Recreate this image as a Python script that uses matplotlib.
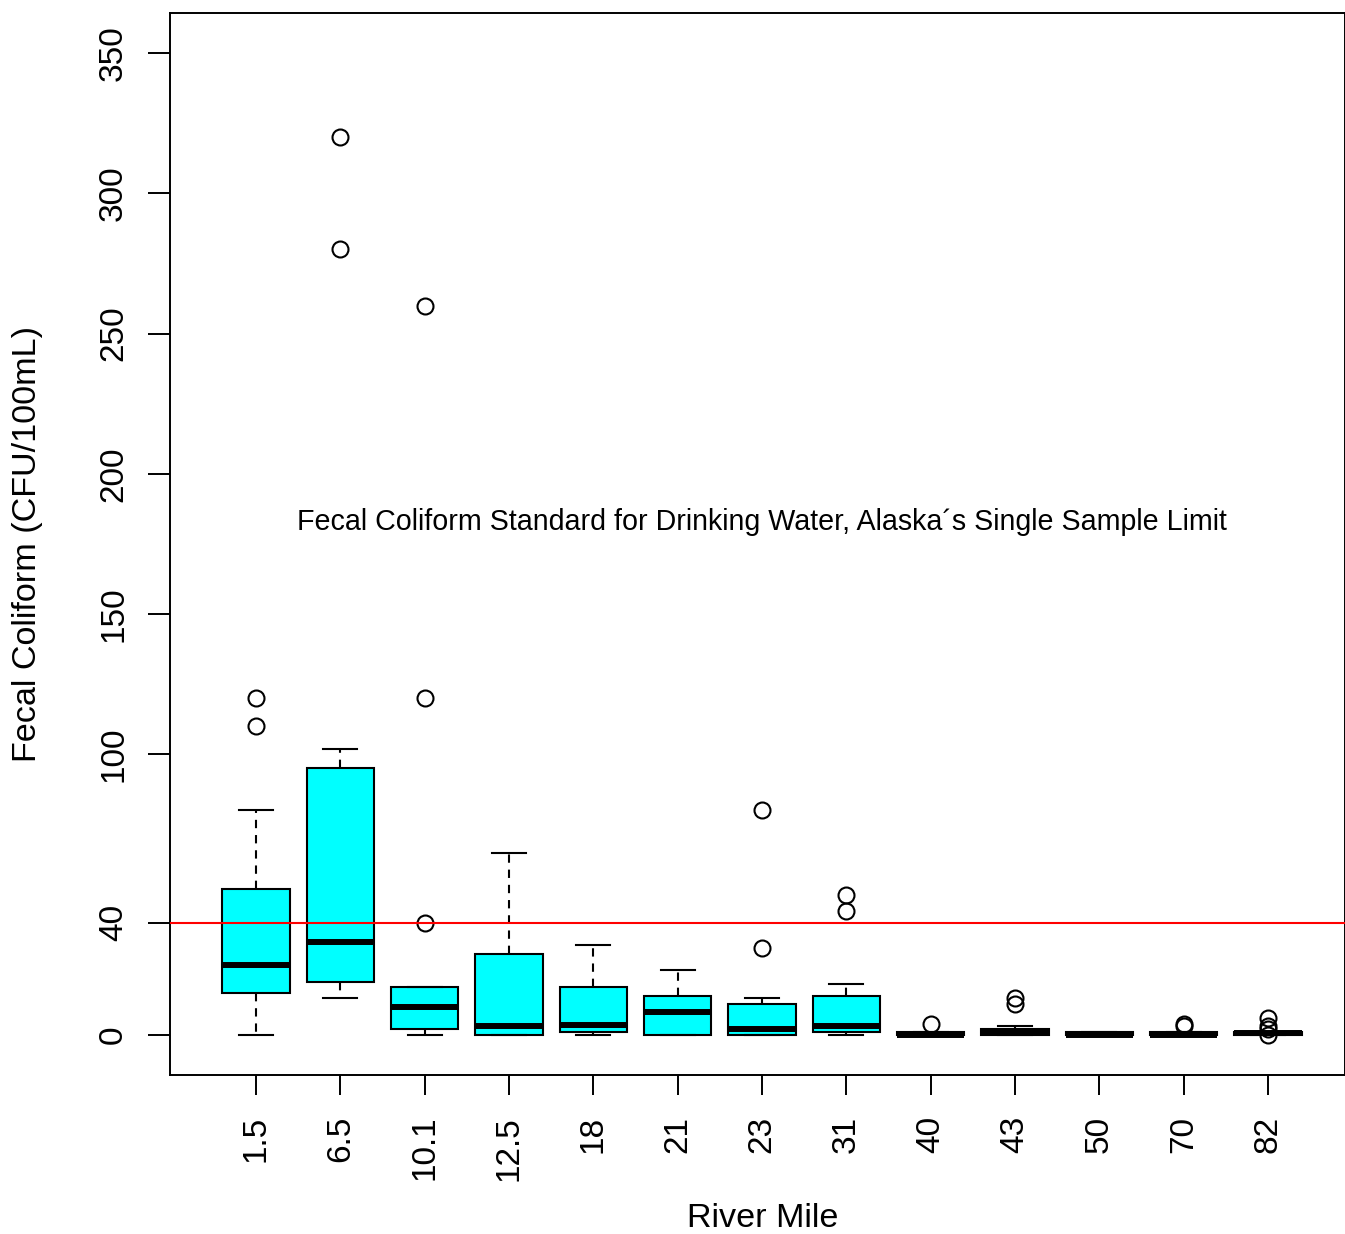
import matplotlib
matplotlib.use("Agg")
import matplotlib.pyplot as plt

plt.rcParams['font.family'] = ['Liberation Sans', 'DejaVu Sans']

# ---- data ----
river_miles = ["1.5", "6.5", "10.1", "12.5", "18", "21", "23", "31", "40", "43", "50", "70", "82"]
whisker_low = [0, 13, 0, 0, 0, 0, 0, 0, 0, 0, 0, 0, 0]
q1_values = [15, 19, 2, 0, 1, 0, 0, 1, 0, 0, 0, 0, 0]
medians = [25, 33, 10, 3, 3.5, 8, 2, 3, 0, 1, 0, 0, 0.5]
q3_values = [52, 95, 17, 29, 17, 14, 11, 14, 1, 2, 1, 1, 1]
whisker_high = [80, 102, 17, 65, 32, 23, 13, 18, 1, 3, 1, 1, 1]
outliers = [
    [120, 110],
    [320, 280],
    [260, 120, 40],
    [],
    [],
    [],
    [80, 31],
    [50, 44],
    [4],
    [13, 11],
    [],
    [4, 3],
    [6, 3, 2, 0],
]
standard_limit = 40
y_ticks = [0, 40, 100, 150, 200, 250, 300, 350]
annotation = "Fecal Coliform Standard for Drinking Water, Alaska\u00b4s Single Sample Limit"

stats = []
for i, lab in enumerate(river_miles):
    stats.append(dict(label=lab, whislo=whisker_low[i], q1=q1_values[i], med=medians[i],
                      q3=q3_values[i], whishi=whisker_high[i], fliers=outliers[i]))

W, H = 1345, 1234
fig = plt.figure(figsize=(W / 100, H / 100), dpi=100)
ax = fig.add_axes([170 / W, 1 - 1075 / H, 1175 / W, 1062 / H])

ax.bxp(stats, positions=range(1, len(stats) + 1), widths=0.8, capwidths=0.4,
       patch_artist=True, showfliers=True,
       boxprops=dict(facecolor='#00FFFF', edgecolor='black', linewidth=1.5),
       medianprops=dict(color='black', linewidth=4.3, solid_capstyle='butt'),
       whiskerprops=dict(color='black', linewidth=1.5, linestyle=(0, (4, 3.3))),
       capprops=dict(color='black', linewidth=1.5),
       flierprops=dict(marker='o', markerfacecolor='none', markeredgecolor='black',
                       markersize=11.5, markeredgewidth=1.5))

ax.axhline(standard_limit, color='red', linewidth=1.5, zorder=5)
ax.text(7, 183, annotation, ha='center', va='center', fontsize=20.6)

ax.set_xlim(-0.02, 13.913)
ax.set_ylim(-14.3, 364.3)

ax.set_yticks(y_ticks)
ax.set_yticklabels([str(v) for v in y_ticks], rotation=90, va='center', fontsize=24)
ax.set_xticks(range(1, len(river_miles) + 1))
ax.set_xticklabels(river_miles, rotation=90, ha='center', va='top', fontsize=24)

ax.tick_params(axis='y', length=15.5, width=1.4, pad=14)
ax.tick_params(axis='x', length=14.4, width=1.4, pad=15)

for s in ax.spines.values():
    s.set_linewidth(1.4)

ax.set_xlabel("River Mile", fontsize=24.6)
ax.xaxis.set_label_coords(0.504, -0.1347)
ax.xaxis.label.set_va('center')
ax.set_ylabel("Fecal Coliform (CFU/100mL)", fontsize=24.6)
ax.yaxis.set_label_coords(-0.1217, 0.5)
ax.yaxis.label.set_va('center')

fig.savefig("out.png", dpi=100)
